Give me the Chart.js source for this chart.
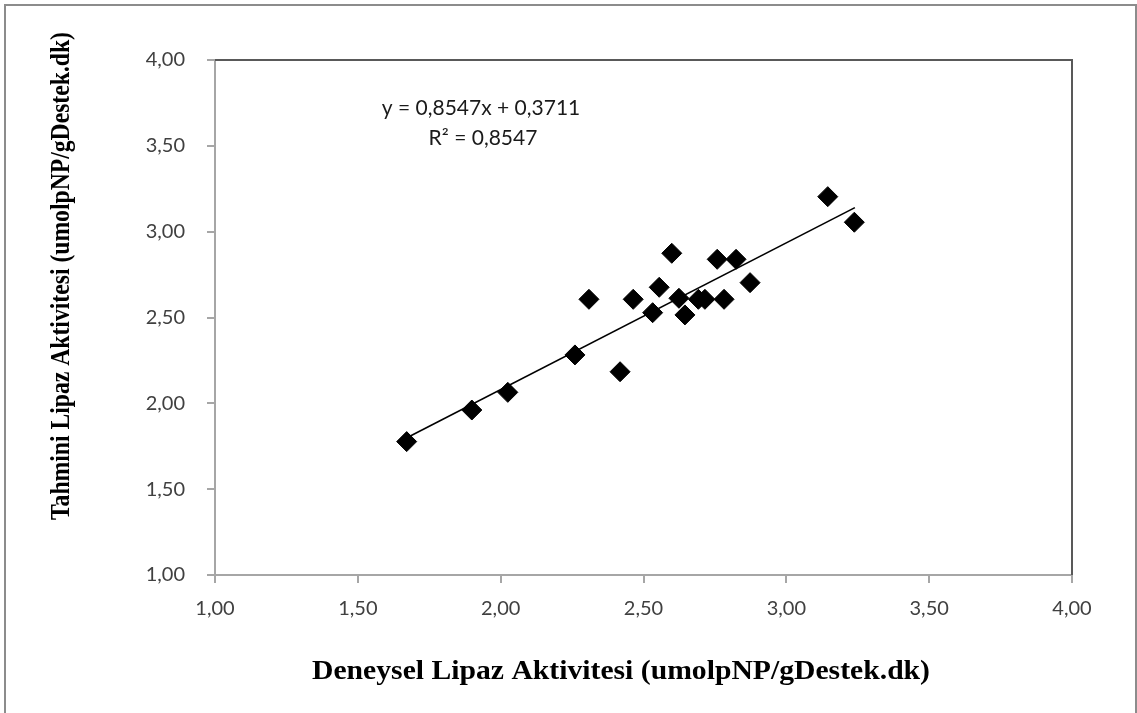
<!DOCTYPE html>
<html>
<head>
<meta charset="utf-8">
<script src="https://cdn.jsdelivr.net/npm/chart.js@4"></script>
<style>
  html, body { margin: 0; padding: 0; background: #ffffff; }
  canvas { display: block; }
</style>
</head>
<body>
<canvas id="c" width="1137" height="713"></canvas>
<script>
// Experimental (x) vs predicted (y) lipase activity
const experimental = [1.671, 1.899, 2.025, 2.260, 2.418, 2.309, 2.464, 2.532, 2.555, 2.599,
                      2.624, 2.645, 2.692, 2.715, 2.782, 2.758, 2.824, 2.873, 3.145, 3.238];
const predicted    = [1.777, 1.961, 2.064, 2.282, 2.184, 2.606, 2.606, 2.528, 2.676, 2.874,
                      2.612, 2.515, 2.606, 2.606, 2.606, 2.839, 2.839, 2.703, 3.204, 3.055];
// Trendline end points (as drawn in the reference)
const trendX = [1.67, 3.24];
const trendY = [1.798, 3.140];
const xTickLabels = ['1,00', '1,50', '2,00', '2,50', '3,00', '3,50', '4,00'];
const yTickLabels = ['1,00', '1,50', '2,00', '2,50', '3,00', '3,50', '4,00'];
const equationText = 'y = 0,8547x + 0,3711';
const r2Text = 'R² = 0,8547';
const xTitle = 'Deneysel Lipaz Aktivitesi (umolpNP/gDestek.dk)';
const yTitle = 'Tahmini Lipaz Aktivitesi (umolpNP/gDestek.dk)';

const scatterPoints = experimental.map((x, i) => ({ x: x, y: predicted[i] }));
const trendPoints = trendX.map((x, i) => ({ x: x, y: trendY[i] }));

const tickFont = { family: 'Lato, "Open Sans", sans-serif', size: 20 };

const decor = {
  id: 'decor',
  beforeDraw(chart) {
    const ctx = chart.ctx;
    ctx.save();
    ctx.fillStyle = '#ffffff';
    ctx.fillRect(0, 0, chart.width, chart.height);
    ctx.strokeStyle = '#8c8c8c';
    ctx.lineWidth = 2;
    ctx.strokeRect(5, 5, 1131, 730);
    ctx.restore();
  },
  afterDraw(chart) {
    const ctx = chart.ctx;
    const a = chart.chartArea;
    ctx.save();
    // top & right plot border
    ctx.strokeStyle = '#595959';
    ctx.lineWidth = 2;
    ctx.beginPath();
    ctx.moveTo(a.left, a.top);
    ctx.lineTo(a.right, a.top);
    ctx.lineTo(a.right, a.bottom);
    ctx.stroke();
    // equation
    ctx.fillStyle = '#1a1a1a';
    ctx.font = '21px Lato, "Open Sans", sans-serif';
    ctx.textAlign = 'center';
    ctx.textBaseline = 'middle';
    ctx.fillText(equationText, 481, 108);
    ctx.fillText(r2Text, 483, 138);
    // axis titles (bold serif, compressed like the reference)
    ctx.fillStyle = '#000000';
    ctx.font = 'bold 27px "Liberation Serif", "Times New Roman", serif';
    let w = ctx.measureText(xTitle).width;
    ctx.save();
    ctx.translate(621, 672);
    ctx.scale(618 / w, 1);
    ctx.fillText(xTitle, 0, 0);
    ctx.restore();
    w = ctx.measureText(yTitle).width;
    ctx.save();
    ctx.translate(62, 276);
    ctx.rotate(-Math.PI / 2);
    ctx.scale(488 / w, 1);
    ctx.fillText(yTitle, 0, 0);
    ctx.restore();
    ctx.restore();
  }
};

new Chart(document.getElementById('c'), {
  type: 'scatter',
  data: {
    datasets: [
      {
        label: 'data',
        data: scatterPoints,
        pointStyle: 'rectRot',
        pointRadius: 10,
        pointHoverRadius: 10,
        backgroundColor: '#000000',
        borderColor: '#000000',
        borderWidth: 1,
        order: 2
      },
      {
        type: 'line',
        label: 'trend',
        data: trendPoints,
        borderColor: '#000000',
        borderWidth: 1.6,
        pointRadius: 0,
        fill: false,
        order: 1
      }
    ]
  },
  options: {
    responsive: false,
    animation: false,
    events: [],
    layout: { padding: { left: 0, top: 60, right: 65, bottom: 0 } },
    plugins: { legend: { display: false }, tooltip: { enabled: false } },
    scales: {
      x: {
        type: 'linear', min: 1, max: 4,
        afterFit(s) { s.height = 138; },
        afterBuildTicks(s) { s.ticks = xTickLabels.map((t, i) => ({ value: 1 + i * 0.5 })); },
        ticks: {
          callback: (v, i) => xTickLabels[i],
          font: tickFont, color: '#404040', padding: 14, maxRotation: 0
        },
        grid: { display: true, drawOnChartArea: false, drawTicks: true, tickLength: 8, color: '#a6a6a6', lineWidth: 2 },
        border: { display: true, color: '#a6a6a6', width: 2 }
      },
      y: {
        type: 'linear', min: 1, max: 4,
        afterFit(s) { s.width = 215; },
        afterBuildTicks(s) { s.ticks = yTickLabels.map((t, i) => ({ value: 1 + i * 0.5 })); },
        ticks: {
          callback: (v, i) => yTickLabels[i],
          font: tickFont, color: '#404040', padding: 22
        },
        grid: { display: true, drawOnChartArea: false, drawTicks: true, tickLength: 8, color: '#a6a6a6', lineWidth: 2 },
        border: { display: true, color: '#a6a6a6', width: 2 }
      }
    }
  },
  plugins: [decor]
});
</script>
</body>
</html>
